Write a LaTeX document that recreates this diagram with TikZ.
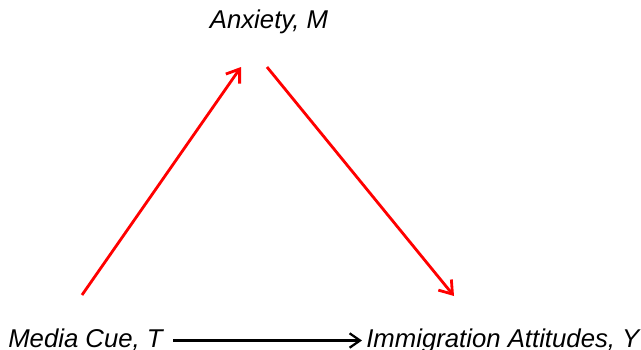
\documentclass[tikz,border=0pt]{standalone}
\usepackage{fontspec}
\setmainfont{Liberation Sans}
\usepackage{xcolor}
\usepackage{tikz}
\usetikzlibrary{positioning, arrows.meta, calc}
\definecolor{mediacol}{HTML}{FF0000}
\tikzset{
	% etichetta di una variabile
	variabile/.style={inner sep=0pt, font=\fontsize{18.3}{21}\selectfont\itshape},
	% effetto indiretto (mediazione)
	mediato/.style={-{Straight Barb[length=3mm, width=4.2mm, line width=2pt]}, line width=2pt, mediacol},
	% effetto diretto
	diretto/.style={-{Straight Barb[length=2.6mm, width=3.6mm, line width=1.6pt]}, line width=1.6pt, black},
}
\begin{document}
\begin{tikzpicture}[x=0.025cm, y=-0.025cm]
    \useasboundingbox (0,0) rectangle (641,350);
    \node[variabile, anchor=base] (anx) at (269,28) {Anxiety, M};
    \node[variabile, anchor=base west] (cue) at (8,347) {Media Cue, T};
    \node[variabile, anchor=base west] (att) at (366,347) {Immigration Attitudes, Y};
    \draw[mediato] ($(cue.base west)+(74,-52)$) -- ($(anx.base)+(-28,39)$);
    \draw[mediato] ($(anx.base)+(-2,39)$) -- ($(att.base west)+(88,-51)$);
    \draw[diretto] ($(cue.base west)+(165,-6.5)$) -- ($(att.base west)+(-4,-6.5)$);
  \end{tikzpicture}
\end{document}
